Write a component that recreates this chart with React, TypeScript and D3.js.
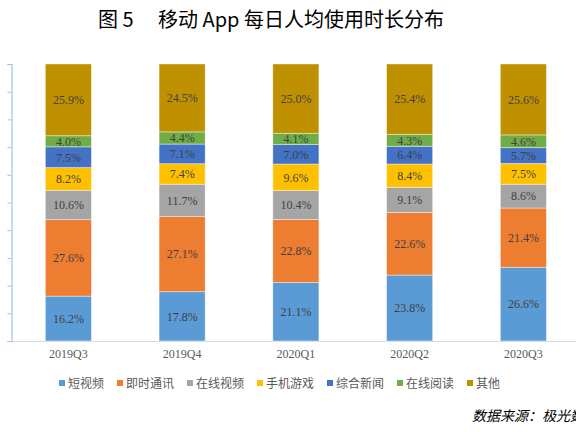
import React, { useEffect, useRef } from 'react';
import * as d3 from 'd3';

const quarters = ['2019Q3', '2019Q4', '2020Q1', '2020Q2', '2020Q3'];
const seriesNames = ['短视频', '即时通讯', '在线视频', '手机游戏', '综合新闻', '在线阅读', '其他'];
const seriesColors = ['#5b9bd5', '#ed7d31', '#a5a5a5', '#ffc000', '#4472c4', '#70ad47', '#bf9000'];

const shortVideo = [16.2, 17.8, 21.1, 23.8, 26.6];
const instantMsg = [27.6, 27.1, 22.8, 22.6, 21.4];
const onlineVideo = [10.6, 11.7, 10.4, 9.1, 8.6];
const mobileGames = [8.2, 7.4, 9.6, 8.4, 7.5];
const newsApps = [7.5, 7.1, 7.0, 6.4, 5.7];
const onlineReading = [4.0, 4.4, 4.1, 4.3, 4.6];
const others = [25.9, 24.5, 25.0, 25.4, 25.6];

const seriesValues = [shortVideo, instantMsg, onlineVideo, mobileGames, newsApps, onlineReading, others];
const yTicks = [0, 10, 20, 30, 40, 50, 60, 70, 80, 90, 100];

const App: React.FC = () => {
  const svgRef = useRef<SVGSVGElement>(null);

  useEffect(() => {
    if (!svgRef.current) return;
    const svg = d3.select(svgRef.current);
    svg.selectAll('*').remove();

    const width = 576;
    const height = 432;
    const top = 64;
    const bottom = 341;
    const left = 11.5;

    svg.attr('width', width).attr('height', height);

    // build rows for the stack
    const rows = quarters.map((q, i) => {
      const row: Record<string, any> = { quarter: q };
      seriesNames.forEach((name, s) => { row[name] = seriesValues[s][i]; });
      return row;
    });
    const stacked = d3.stack<any>().keys(seriesNames)(rows);

    const x = d3.scaleBand<string>()
      .domain(quarters)
      .range([left, left + 113.75 * quarters.length])
      .paddingInner(0.595)
      .paddingOuter(0.2975);

    const y = d3.scaleLinear().domain([0, 100]).range([bottom, top]);

    // Title
    svg.append('text')
      .attr('x', 98).attr('y', 27)
      .attr('font-family', '"Noto Sans CJK SC", sans-serif')
      .attr('font-size', 20)
      .attr('fill', '#000')
      .text('图 5');
    svg.append('text')
      .attr('x', 158).attr('y', 27)
      .attr('font-family', '"Noto Sans CJK SC", sans-serif')
      .attr('font-size', 20)
      .attr('fill', '#000')
      .text('移动 App 每日人均使用时长分布');

    // Bottom axis line
    svg.append('line')
      .attr('x1', left).attr('x2', width)
      .attr('y1', bottom + 0.5).attr('y2', bottom + 0.5)
      .attr('stroke', '#d9d9d9').attr('stroke-width', 1);

    // Left axis
    const yAxis = d3.axisLeft(y)
      .tickValues(yTicks)
      .tickSize(4)
      .tickPadding(10)
      .tickFormat(d => `${d}%`);
    const ga = svg.append('g')
      .attr('transform', `translate(${left},0)`)
      .call(yAxis);
    ga.select('.domain').attr('stroke', '#9dc3e6').attr('stroke-width', 1.2);
    ga.selectAll('.tick line').attr('stroke', '#9dc3e6');
    ga.selectAll('.tick text')
      .attr('fill', '#8fa9c4')
      .attr('font-family', '"Liberation Serif", serif')
      .attr('font-size', 12);

    // Bars
    const layers = svg.append('g').selectAll('g')
      .data(stacked)
      .enter()
      .append('g')
      .attr('fill', (_d, i) => seriesColors[i]);

    layers.selectAll('rect')
      .data(d => d)
      .enter()
      .append('rect')
      .attr('x', d => x(d.data.quarter)!)
      .attr('width', x.bandwidth())
      .attr('y', d => y(d[1]))
      .attr('height', d => y(d[0]) - y(d[1]))
      .attr('stroke', 'rgba(255,255,255,0.5)')
      .attr('stroke-width', 0.8);

    layers.selectAll('text')
      .data(d => d.map(v => ({ v, key: d.key })))
      .enter()
      .append('text')
      .attr('x', d => x(d.v.data.quarter)! + x.bandwidth() / 2)
      .attr('y', d => (y(d.v[0]) + y(d.v[1])) / 2)
      .attr('dy', '0.36em')
      .attr('text-anchor', 'middle')
      .attr('font-family', '"Liberation Serif", serif')
      .attr('font-size', 12)
      .attr('fill', '#404040')
      .text(d => `${(d.v[1] - d.v[0]).toFixed(1)}%`);

    // Category labels
    svg.append('g').selectAll('text')
      .data(quarters)
      .enter()
      .append('text')
      .attr('x', d => x(d)! + x.bandwidth() / 2)
      .attr('y', 358)
      .attr('text-anchor', 'middle')
      .attr('font-family', '"Liberation Serif", serif')
      .attr('font-size', 12)
      .attr('fill', '#595959')
      .text(d => d);

    // Legend
    let lx = 59;
    const legend = svg.append('g');
    seriesNames.forEach((name, i) => {
      legend.append('rect')
        .attr('x', lx).attr('y', 380)
        .attr('width', 6).attr('height', 6)
        .attr('fill', seriesColors[i]);
      legend.append('text')
        .attr('x', lx + 9).attr('y', 387.5)
        .attr('font-family', '"Noto Sans CJK SC", sans-serif')
        .attr('font-size', 12)
        .attr('fill', '#595959')
        .text(name);
      lx += 9 + 12 * name.length + 13;
    });

    // Source
    svg.append('text')
      .attr('x', 472).attr('y', 421)
      .attr('font-family', '"Noto Sans CJK SC", sans-serif')
      .attr('font-size', 14)
      .attr('font-style', 'italic')
      .attr('fill', '#000')
      .text('数据来源：极光数据');
  }, []);

  return (
    <div style={{ position: 'fixed', left: 0, top: 0, width: 576, height: 432, background: '#fff' }}>
      <svg ref={svgRef} style={{ display: 'block' }}></svg>
    </div>
  );
};

export default App;
